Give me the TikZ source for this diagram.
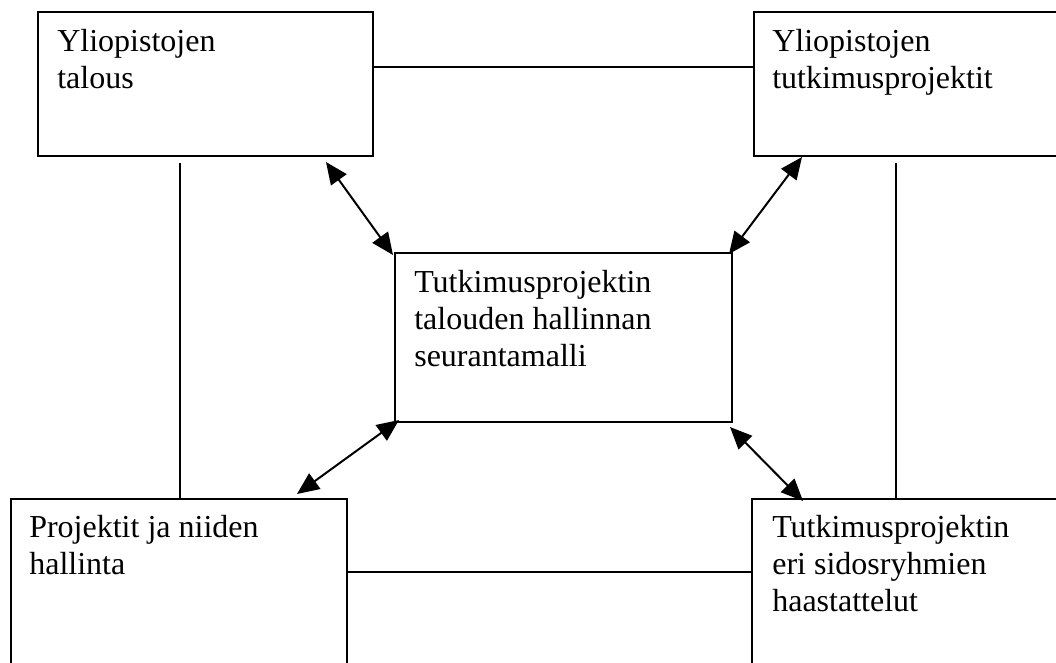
\documentclass[tikz,border=0pt]{standalone}
\usepackage{fontspec}
\setmainfont{Liberation Serif}
\usetikzlibrary{arrows.meta}
\begin{document}
\begin{tikzpicture}[x=1pt,y=-1pt,
  box/.style={draw, line width=1.8pt, rectangle, inner sep=0pt},
  boxtext/.style={anchor=base west, inner sep=0pt, font=\fontsize{32}{37}\selectfont},
  link/.style={line width=1.6pt},
  biarrow/.style={line width=2pt, {Triangle[length=22pt,width=19pt]}-{Triangle[length=22pt,width=19pt]}}]
\useasboundingbox (0,0) rectangle (1056,662);
\clip (0,0) rectangle (1056,662);

% boxes
\node[box, minimum width=335pt, minimum height=144pt] (tl) at (205.5,84) {};
\node[box, minimum width=346pt, minimum height=144pt] (tr) at (927,84) {};
\node[box, minimum width=337pt, minimum height=169pt] (c) at (563.5,337.5) {};
\node[box, minimum width=336pt, minimum height=221pt] (bl) at (179,609.5) {};
\node[box, minimum width=348pt, minimum height=221pt] (br) at (926,609.5) {};

% texts
\node[boxtext] (tltext) at ([shift={(20,40)}]tl.north west) {\parbox[t]{320pt}{Yliopistojen\\talous}};
\node[boxtext] (trtext) at ([shift={(19,40)}]tr.north west) {\parbox[t]{320pt}{Yliopistojen\\tutkimusprojektit}};
\node[boxtext] (ctext) at ([shift={(20,40)}]c.north west) {\parbox[t]{320pt}{Tutkimusprojektin\\talouden hallinnan\\seurantamalli}};
\node[boxtext] (bltext) at ([shift={(19,39)}]bl.north west) {\parbox[t]{320pt}{Projektit ja niiden\\hallinta}};
\node[boxtext] (brtext) at ([shift={(21,39)}]br.north west) {\parbox[t]{320pt}{Tutkimusprojektin\\eri sidosryhmien\\haastattelut}};

% plain connectors
\coordinate (htop) at (373,67);
\draw[link] (htop) -- (htop -| tr.west);
\coordinate (hbot) at (347,572);
\draw[link] (hbot) -- (hbot -| br.west);
\coordinate (vleft) at (180,163);
\draw[link] (vleft) -- (vleft |- bl.north);
\coordinate (vright) at (896,163);
\draw[link] (vright) -- (vright |- br.north);

% double arrows
\coordinate (a1s) at (326,162);
\coordinate (a1e) at (393,255);
\draw[biarrow] (a1s) -- (a1e);
\coordinate (a2s) at (802,157);
\coordinate (a2e) at (729,254);
\draw[biarrow] (a2s) -- (a2e);
\coordinate (a3s) at (399,420);
\coordinate (a3e) at (297,494);
\draw[biarrow] (a3s) -- (a3e);
\coordinate (a4s) at (730,427);
\coordinate (a4e) at (803,501);
\draw[biarrow] (a4s) -- (a4e);
\end{tikzpicture}
\end{document}
